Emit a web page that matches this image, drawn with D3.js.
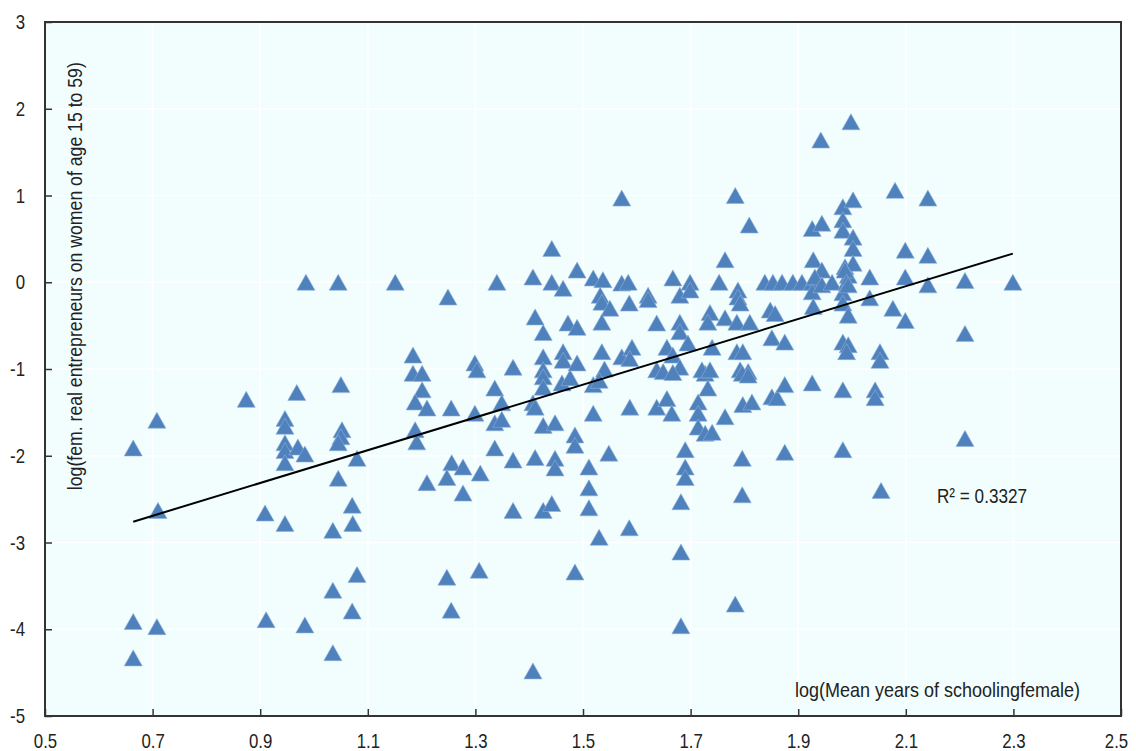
<!DOCTYPE html>
<html>
<head>
<meta charset="utf-8">
<script src="https://cdn.jsdelivr.net/npm/d3@7"></script>
<style>
  body { margin: 0; background: #fff; }
  text { font-family: "Liberation Sans", Arial, sans-serif; fill: #222; }
</style>
</head>
<body>
<script>
// tick values of both axes
var xTicks = [0.5, 0.7, 0.9, 1.1, 1.3, 1.5, 1.7, 1.9, 2.1, 2.3, 2.5];
var yTicks = [3, 2, 1, 0, -1, -2, -3, -4, -5];

// [log(mean years of schooling female), log(fem. real entrepreneurs ...)]
var points = [
  [0.664,-1.91],[0.664,-3.91],[0.664,-4.33],
  [0.708,-1.59],[0.71,-2.63],[0.708,-3.97],
  [0.874,-1.35],[0.909,-2.66],[0.911,-3.89],[0.946,-2.78],
  [0.946,-1.57],[0.946,-1.66],[0.946,-1.85],[0.946,-1.94],[0.946,-2.08],
  [0.968,-1.27],[0.970,-1.9],[0.983,-1.98],[0.985,0],[0.983,-3.95],
  [1.045,0],[1.05,-1.18],[1.052,-1.7],[1.05,-1.78],[1.045,-1.85],
  [1.08,-2.03],[1.045,-2.26],[1.035,-2.86],[1.035,-3.55],[1.035,-4.27],
  [1.071,-2.57],[1.072,-2.78],[1.08,-3.37],[1.071,-3.79],
  [1.151,0],[1.184,-0.84],[1.184,-1.05],[1.201,-1.05],[1.201,-1.24],[1.188,-1.38],
  [1.21,-1.45],[1.188,-1.7],[1.191,-1.84],[1.21,-2.31],
  [1.249,-0.17],[1.255,-1.45],[1.256,-2.08],[1.277,-2.13],[1.247,-2.25],[1.277,-2.43],
  [1.247,-3.4],[1.255,-3.78],
  [1.299,-0.93],[1.303,-1.01],[1.299,-1.51],[1.309,-2.2],[1.307,-3.32],
  [1.340,0],[1.336,-1.22],[1.349,-1.39],[1.336,-1.62],[1.349,-1.58],[1.336,-1.91],
  [1.370,-0.98],[1.370,-2.05],[1.370,-2.63],
  [1.407,0.06],[1.411,-0.4],[1.426,-0.58],[1.426,-0.86],[1.426,-1.01],[1.426,-1.09],
  [1.426,-1.21],[1.407,-1.39],[1.411,-1.44],[1.426,-1.65],[1.411,-2.02],[1.426,-2.63],[1.407,-4.48],
  [1.442,0.39],[1.442,0],[1.463,-0.07],[1.472,-0.47],[1.489,-0.52],[1.463,-0.8],[1.463,-0.9],
  [1.461,-1.16],[1.476,-1.1],[1.448,-1.62],[1.448,-2.03],[1.448,-2.14],[1.442,-2.55],[1.489,-0.93],
  [1.489,0.14],[1.485,-1.76],[1.485,-1.88],[1.485,-3.34],
  [1.519,0.05],[1.537,0.03],[1.532,-0.15],[1.535,-0.23],[1.55,-0.3],[1.535,-0.46],
  [1.535,-0.8],[1.54,-1.0],[1.519,-1.18],[1.53,-1.13],[1.519,-1.51],[1.511,-2.13],[1.548,-1.97],
  [1.511,-2.37],[1.511,-2.6],[1.53,-2.94],
  [1.572,0.97],[1.572,-0.01],[1.584,0],[1.586,-0.24],[1.572,-0.86],[1.591,-0.75],[1.587,-0.88],
  [1.587,-1.44],[1.586,-2.83],
  [1.621,-0.15],[1.621,-0.2],[1.637,-0.47],[1.656,-0.75],[1.667,-0.84],[1.680,-0.98],
  [1.637,-1.01],[1.649,-1.03],[1.637,-1.44],[1.656,-1.34],[1.665,-1.51],[1.667,-1.04],
  [1.667,0.05],[1.699,0],[1.680,-0.15],[1.699,-0.09],[1.680,-0.46],[1.680,-0.57],[1.695,-0.7],
  [1.690,-1.93],[1.690,-2.13],[1.690,-2.25],[1.682,-2.53],[1.682,-3.11],[1.682,-3.96],
  [1.714,-1.38],[1.714,-1.51],[1.714,-1.67],[1.727,-1.74],[1.74,-1.73],[1.727,-1.05],
  [1.732,-1.22],[1.721,-1.01],[1.736,-1.01],[1.736,-0.35],[1.732,-0.46],[1.74,-0.75],
  [1.753,0],[1.764,0.26],[1.764,-0.41],[1.764,-1.55],[1.783,1.0],[1.809,0.66],
  [1.788,-0.09],[1.788,-0.17],[1.792,-0.24],[1.786,-0.46],[1.81,-0.46],[1.786,-0.8],
  [1.797,-0.8],[1.792,-1.01],[1.807,-1.03],[1.796,-1.05],[1.807,-1.07],[1.797,-1.41],
  [1.814,-1.38],[1.796,-2.03],[1.796,-2.45],[1.783,-3.71],
  [1.838,0],[1.853,0],[1.870,0],[1.890,0],[1.907,0],[1.926,0],
  [1.848,-0.32],[1.857,-0.36],[1.851,-0.64],[1.875,-0.69],[1.851,-1.32],[1.861,-1.33],
  [1.875,-1.18],[1.875,-1.96],
  [1.926,0.62],[1.944,0.68],[1.928,0.26],[1.944,0.14],[1.931,0.06],[1.926,-0.11],
  [1.944,-0.03],[1.928,-0.28],[1.926,-1.16],[1.942,1.64],[1.998,1.85],[1.963,0],
  [1.983,0.87],[2.002,0.95],[1.983,0.72],[1.983,0.6],[2.002,0.52],[2.002,0.39],
  [1.987,0.18],[2.002,0.22],[1.993,0.08],[1.987,0.14],[1.99,0],
  [1.983,-0.12],[1.993,-0.03],[1.983,-0.24],[1.993,-0.38],
  [1.983,-0.69],[1.993,-0.72],[1.99,-0.8],[1.983,-1.24],[1.983,-1.93],
  [2.033,0.06],[2.033,-0.18],[2.043,-1.24],[2.043,-1.33],[2.052,-0.8],[2.052,-0.9],[2.054,-2.4],
  [2.080,1.06],[2.076,-0.3],[2.099,-0.44],[2.099,0.37],[2.099,0.06],
  [2.141,0.97],[2.141,0.31],[2.141,-0.03],
  [2.21,0.02],[2.21,-0.59],[2.21,-1.8],[2.299,0]
];

// linear trend line as drawn in the chart
var trendSlope = 1.89,
    trendIntercept = -4.015,
    trendLabel = "R\u00b2 = 0.3327";

var xTitle = "log(Mean years of schoolingfemale)",
    yTitle = "log(fem. real entrepreneurs on women of age 15 to 59)";

var width = 1136,
    height = 751;
var margin = {top: 22, right: 15, bottom: 35, left: 45};
var plotW = width - margin.left - margin.right,
    plotH = height - margin.top - margin.bottom;

//the chart's font is a narrow sans, so squeeze the text a bit
var squeeze = 0.8;

var svg = d3.select("body")
    .append("svg")
    .attr("width", width)
    .attr("height", height);

var x = d3.scaleLinear().domain([0.5, 2.5]).range([0, plotW]);
var y = d3.scaleLinear().domain([-5, 3]).range([plotH, 0]);

var g = svg.append("g")
    .attr("transform", "translate(" + margin.left + "," + margin.top + ")");

//plot background
g.append("rect")
    .attr("width", plotW)
    .attr("height", plotH)
    .attr("fill", "#f2fefe");

//gridlines
g.selectAll(".vgrid")
    .data(xTicks)
    .enter()
    .append("line")
    .attr("class", "vgrid")
    .attr("x1", function(d){ return x(d); })
    .attr("x2", function(d){ return x(d); })
    .attr("y1", 0)
    .attr("y2", plotH)
    .attr("stroke", "#ffffff")
    .attr("stroke-width", 1.5);

g.selectAll(".hgrid")
    .data(yTicks)
    .enter()
    .append("line")
    .attr("class", "hgrid")
    .attr("y1", function(d){ return y(d); })
    .attr("y2", function(d){ return y(d); })
    .attr("x1", 0)
    .attr("x2", plotW)
    .attr("stroke", "#ffffff")
    .attr("stroke-width", 1.5);

//triangle markers, bounding box centred on the point
var tri = "M0,-8L9,8L-9,8Z";
g.selectAll(".pt")
    .data(points)
    .enter()
    .append("path")
    .attr("class", "pt")
    .attr("d", tri)
    .attr("transform", function(d){ return "translate(" + x(d[0]) + "," + y(d[1]) + ")"; })
    .attr("fill", "#4f81bd")
    .attr("stroke", "#8fb0d8")
    .attr("stroke-width", 0.6);

//trend line over the range of the data
var xExt = d3.extent(points, function(d){ return d[0]; });
g.append("line")
    .attr("x1", x(xExt[0]))
    .attr("y1", y(trendSlope * xExt[0] + trendIntercept))
    .attr("x2", x(xExt[1]))
    .attr("y2", y(trendSlope * xExt[1] + trendIntercept))
    .attr("stroke", "#000")
    .attr("stroke-width", 2);

//axes
var xAxis = g.append("g")
    .attr("transform", "translate(0," + plotH + ")")
    .call(d3.axisBottom(x).tickValues(xTicks).tickSize(-7).tickPadding(17)
        .tickFormat(d3.format(".1f")));
var yAxis = g.append("g")
    .call(d3.axisLeft(y).tickValues(yTicks).tickSize(-7).tickPadding(20)
        .tickFormat(function(d){ return String(d); }));

[xAxis, yAxis].forEach(function(a){
    a.select(".domain").remove();
    a.selectAll(".tick line").attr("stroke", "#333").attr("stroke-width", 1.5);
    a.selectAll(".tick text")
        .attr("font-size", "21px")
        .attr("font-family", "Liberation Sans, Arial, sans-serif")
        .attr("fill", "#222")
        .each(function(){
            var len = this.getComputedTextLength();
            d3.select(this)
                .attr("textLength", len * squeeze)
                .attr("lengthAdjust", "spacingAndGlyphs");
        });
});

//last label sits a little left so it stays inside the picture
xAxis.selectAll(".tick text")
    .filter(function(d){ return d === 2.5; })
    .attr("x", -5);

//frame
g.append("rect")
    .attr("width", plotW)
    .attr("height", plotH)
    .attr("fill", "none")
    .attr("stroke", "#333")
    .attr("stroke-width", 2);

//labels
g.append("text")
    .attr("transform", "translate(37," + y(0.07) + ") rotate(-90)")
    .attr("text-anchor", "middle")
    .attr("font-size", "21px")
    .attr("textLength", 428)
    .attr("lengthAdjust", "spacingAndGlyphs")
    .text(yTitle);

g.append("text")
    .attr("x", x(2.159))
    .attr("y", y(-4.78))
    .attr("text-anchor", "middle")
    .attr("font-size", "21px")
    .attr("textLength", 285)
    .attr("lengthAdjust", "spacingAndGlyphs")
    .text(xTitle);

g.append("text")
    .attr("x", x(2.158))
    .attr("y", y(-2.55))
    .attr("font-size", "21px")
    .attr("textLength", 90)
    .attr("lengthAdjust", "spacingAndGlyphs")
    .text(trendLabel);
</script>
</body>
</html>
